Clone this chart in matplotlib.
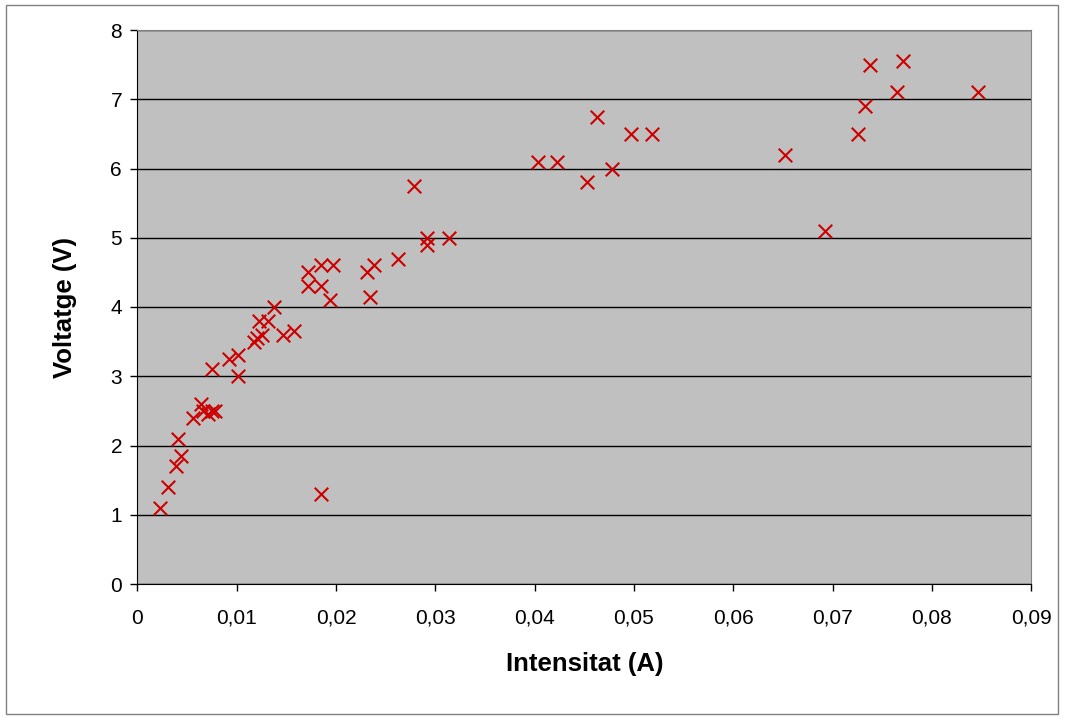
import matplotlib
matplotlib.use("Agg")
import matplotlib.pyplot as plt
from matplotlib.patches import Rectangle
from matplotlib.ticker import FuncFormatter

plt.rcParams['font.family'] = ['Liberation Sans', 'DejaVu Sans']

# dades llegides del gràfic
intensitat = [0.0023, 0.0031, 0.0039, 0.0044, 0.0041, 0.0056, 0.0064, 0.0066,
              0.0071, 0.0075, 0.0078, 0.0075, 0.0092, 0.0101, 0.0101, 0.0117,
              0.0120, 0.0126, 0.0123, 0.0132, 0.0138, 0.0147, 0.0158, 0.0172,
              0.0172, 0.0185, 0.0197, 0.0185, 0.0194, 0.0185, 0.0231, 0.0238,
              0.0234, 0.0262, 0.0292, 0.0292, 0.0314, 0.0279, 0.0403, 0.0423,
              0.0453, 0.0478, 0.0463, 0.0497, 0.0518, 0.0652, 0.0692, 0.0726,
              0.0733, 0.0738, 0.0765, 0.0771, 0.0846]
voltatge = [1.1, 1.4, 1.7, 1.85, 2.1, 2.4, 2.6, 2.5,
            2.45, 2.5, 2.5, 3.1, 3.25, 3.3, 3.0, 3.5,
            3.55, 3.6, 3.8, 3.8, 4.0, 3.6, 3.65, 4.5,
            4.3, 4.6, 4.6, 4.3, 4.1, 1.3, 4.5, 4.6,
            4.15, 4.7, 5.0, 4.9, 5.0, 5.75, 6.1, 6.1,
            5.8, 6.0, 6.75, 6.5, 6.5, 6.2, 5.1, 6.5,
            6.9, 7.5, 7.1, 7.55, 7.1]

x_ticks = [0, 0.01, 0.02, 0.03, 0.04, 0.05, 0.06, 0.07, 0.08, 0.09]
y_ticks = [0, 1, 2, 3, 4, 5, 6, 7, 8]

fig = plt.figure(figsize=(10.66, 7.18), dpi=100)
fig.patches.append(Rectangle((6 / 1066, 4 / 718), 1052 / 1066, 709 / 718,
                             transform=fig.transFigure, fill=False,
                             edgecolor='#808080', linewidth=1))
ax = fig.add_axes([137.3 / 1066, 1 - 584 / 718, 894 / 1066, 554 / 718])
ax.set_facecolor('#C0C0C0')

ax.scatter(intensitat, voltatge, marker='x', s=95, color='#CC0000',
           linewidths=1.5, zorder=3)

ax.set_xlim(0, 0.09)
ax.set_ylim(0, 8)
ax.set_xticks(x_ticks)
ax.set_yticks(y_ticks)
ax.xaxis.set_major_formatter(FuncFormatter(
    lambda v, p: '0' if v == 0 else f'{v:.2f}'.replace('.', ',')))
ax.yaxis.set_major_formatter(FuncFormatter(lambda v, p: f'{v:.0f}'))
ax.yaxis.grid(True, color='black', linewidth=1)
ax.set_axisbelow(True)

ax.tick_params(axis='both', direction='out', length=5, width=1,
               labelsize=15, colors='black')
ax.tick_params(axis='x', pad=13)
ax.tick_params(axis='y', pad=6)
for s in ['top', 'right']:
    ax.spines[s].set_color('#808080')
for s in ['left', 'bottom']:
    ax.spines[s].set_color('black')

ax.set_xlabel('Intensitat (A)', fontsize=18.5, fontweight='bold', labelpad=17)
ax.set_ylabel('Voltatge (V)', fontsize=18.5, fontweight='bold', labelpad=24)

fig.savefig('out.png', dpi=100)
